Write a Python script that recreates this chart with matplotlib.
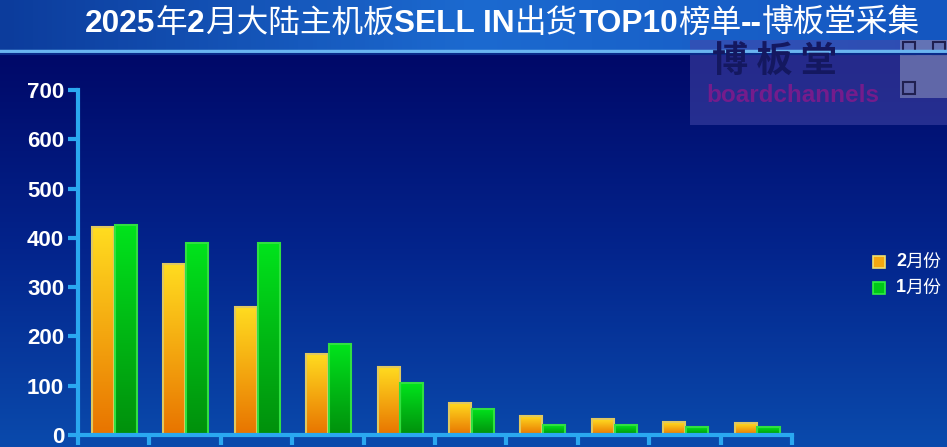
import numpy as np
import matplotlib.pyplot as plt
from matplotlib.colors import LinearSegmentedColormap
from matplotlib.patches import Rectangle

# data
feb = [422, 347, 260, 165, 138, 65, 39, 32, 26, 24]
jan = [426, 390, 390, 184, 105, 53, 20, 20, 16, 16]
yticks = [0, 100, 200, 300, 400, 500, 600, 700]
title_parts = [('2025', 'bold'), ('年', 'normal'), ('2', 'bold'), ('月大陆主机板', 'normal'),
               ('SELL IN', 'bold'), ('出货', 'normal'), ('TOP10', 'bold'), ('榜单', 'normal'),
               ('--', 'bold'), ('博板堂采集', 'normal')]
legend_labels = [('2', '月份'), ('1', '月份')]

W, H = 947, 447
fig = plt.figure(figsize=(W / 100, H / 100), dpi=100)

# background
bg = fig.add_axes([0, 0, 1, 1], zorder=-10)
bg.set_axis_off()
bg.set_xlim(0, W)
bg.set_ylim(H, 0)
grad_cmap = LinearSegmentedColormap.from_list('bg', ['#000868', '#03248c', '#0a4aac'])
g = np.linspace(0, 1, 200).reshape(-1, 1)
bg.imshow(g, extent=(0, W, H, 52), cmap=grad_cmap, aspect='auto')
band_cmap = LinearSegmentedColormap.from_list('band', ['#0c3c9c', '#1c6ad0', '#1456c0'])
bg.imshow(np.linspace(0, 1, 200).reshape(1, -1), extent=(0, W, 50, 0), cmap=band_cmap, aspect='auto')
bg.plot([0, W], [51, 51], color='#6ab4f0', lw=2.5)
bg.plot([0, W], [53.5, 53.5], color='#0a2a8a', lw=1.5)

# watermark box
bg.add_patch(Rectangle((690, 40), 257, 85, facecolor='#4446a8', alpha=0.55, edgecolor='none'))
bg.text(712, 62, '博 板 堂', color='#141860', fontsize=26, fontweight='bold',
        family=['Noto Sans CJK SC'], va='center', ha='left', style='italic')
bg.text(706, 96, 'boardchannels', color='#741c8c', fontsize=17.5, fontweight='bold',
        family=['Liberation Sans'], va='center', ha='left')
bg.add_patch(Rectangle((900, 40), 47, 58, facecolor='#8088b8', edgecolor='none', alpha=0.65))
for (qx, qy) in [(903, 42), (903, 82), (933, 42)]:
    bg.add_patch(Rectangle((qx, qy), 12, 12, facecolor='none', edgecolor='#202050', lw=1.5))

# title with mixed weights
renderer = fig.canvas.get_renderer()
fs = 22.8
widths = []
for s, w in title_parts:
    t = fig.text(0, 0, s, fontsize=fs, fontweight=w, family=['Liberation Sans', 'Noto Sans CJK SC'])
    widths.append(t.get_window_extent(renderer).width)
    t.remove()
x = 85
for (s, w), wd in zip(title_parts, widths):
    fig.text(x / W, 1 - 24 / H, s, fontsize=fs, fontweight=w, color='white', va='center',
             family=['Liberation Sans', 'Noto Sans CJK SC'])
    x += wd

# main axes
ax = fig.add_axes([78 / W, 12 / H, 714 / W, 345 / H])
ax.patch.set_alpha(0)
n = len(feb)
axis_col = '#2aa8f0'
for s in ['top', 'right']:
    ax.spines[s].set_visible(False)
for s in ['left', 'bottom']:
    ax.spines[s].set_color(axis_col)
    ax.spines[s].set_linewidth(3)
    ax.spines[s].set_zorder(5)
ax.set_yticks(yticks)
ax.set_yticklabels([str(v) for v in yticks], color='white', fontsize=16, fontweight='bold',
                   family='Liberation Sans')
ax.tick_params(axis='y', length=7, width=3, color=axis_col, pad=3)
ax.set_xticks(np.arange(0, n + 1))
ax.set_xticklabels([])
ax.tick_params(axis='x', length=7, width=3, color=axis_col)

idx = np.arange(n)
bw = 0.31
orange_cmap = LinearSegmentedColormap.from_list('o', ['#ffdc20', '#f4a810', '#e87400'])
green_cmap = LinearSegmentedColormap.from_list('g', ['#00e41c', '#00b814', '#00900c'])
b1 = ax.bar(idx + 0.35, feb, bw, facecolor='none', edgecolor='#e0c860', lw=1.5, zorder=3)
b2 = ax.bar(idx + 0.67, jan, bw, facecolor='none', edgecolor='#30e040', lw=1.5, zorder=3)
for bars, cm in [(b1, orange_cmap), (b2, green_cmap)]:
    for r in bars:
        x0, w0, h0 = r.get_x(), r.get_width(), r.get_height()
        ax.imshow(np.linspace(0, 1, 100).reshape(-1, 1), extent=(x0, x0 + w0, 0, h0),
                  cmap=cm, aspect='auto', origin='upper', zorder=2)
ax.set_xlim(0, n)
ax.set_ylim(0, 700)

# legend
for i, ((num, rest), c, ec) in enumerate([(legend_labels[0], '#f4a810', '#f0e070'),
                                          (legend_labels[1], '#00c818', '#30f040')]):
    yy = 262 + i * 26
    bg.add_patch(Rectangle((873, yy - 6), 12, 12, facecolor=c, edgecolor=ec, lw=1.2))
    bg.text(896, yy, num, color='white', fontsize=13, fontweight='bold',
            family=['Liberation Sans'], va='center')
    bg.text(905, yy, rest, color='white', fontsize=13, family=['Noto Sans CJK SC'], va='center')

fig.savefig('out.png', dpi=100)
